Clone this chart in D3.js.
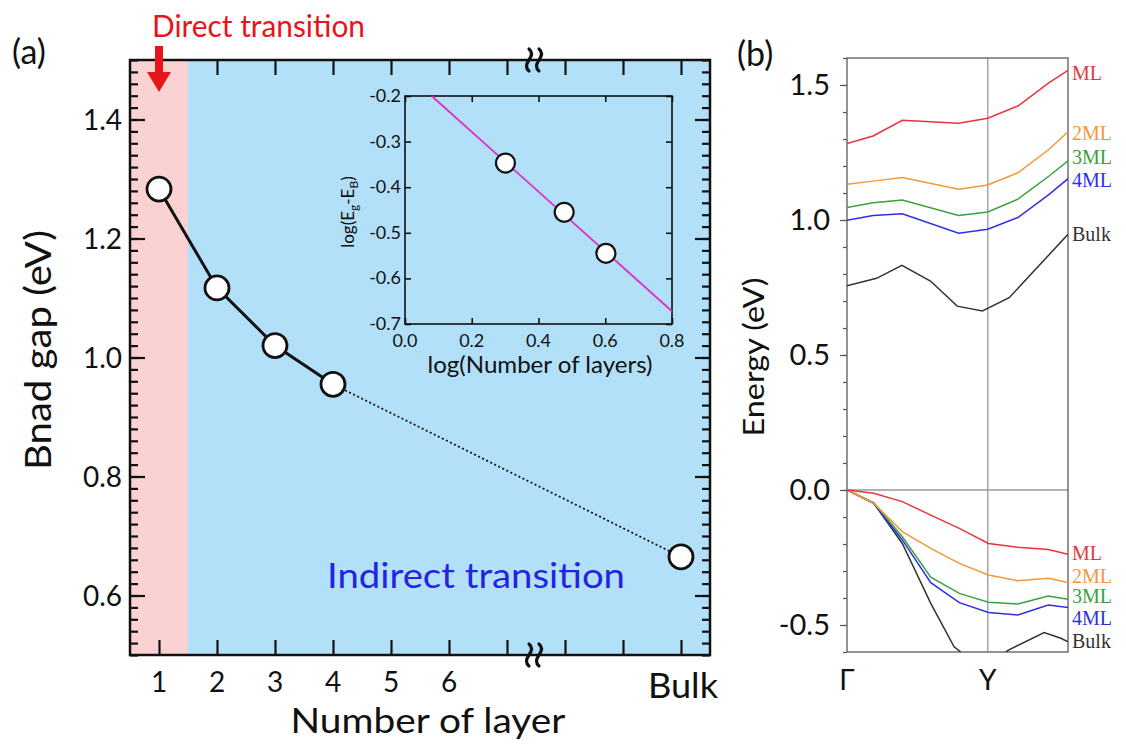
<!DOCTYPE html>
<html>
<head>
<meta charset="utf-8">
<script src="https://cdn.jsdelivr.net/npm/d3@7"></script>
<style>
  body { margin: 0; background: #fff; }
  svg { display: block; font-family: Lato, "Open Sans", sans-serif; }
</style>
</head>
<body>
<div id="chart"></div>
<script>
// ---- data: panel (a) band gap vs layers
const layerNum = [1, 2, 3, 4];
const layerGap = [1.283, 1.117, 1.020, 0.955];
const bulkPos = 10;
const bulkGap = 0.665;
const xTickVals = [1, 2, 3, 4, 5, 6, 7, 8, 9, 10];
const xTickText = ["1", "2", "3", "4", "5", "6", "", "", "", ""];
const yTickVals = [0.6, 0.8, 1.0, 1.2, 1.4];

// inset: log-log fit
const insetLogN = [0.301, 0.477, 0.602];
const insetLogDiff = [-0.347, -0.455, -0.545];
const fitX = [0.08, 0.8];
const fitY = [-0.2, -0.672];

// ---- data: panel (b) band structure
const kCond = [0, 0.186, 0.393, 0.793, 1.0, 1.214, 1.436, 1.57];
const condML  = [1.283, 1.311, 1.369, 1.358, 1.377, 1.422, 1.509, 1.554];
const cond2ML = [1.132, 1.144, 1.157, 1.114, 1.130, 1.175, 1.262, 1.327];
const cond3ML = [1.046, 1.064, 1.074, 1.017, 1.030, 1.077, 1.163, 1.219];
const cond4ML = [0.999, 1.017, 1.023, 0.951, 0.966, 1.009, 1.095, 1.153];
const kCondBulk = [0, 0.21, 0.39, 0.593, 0.783, 0.962, 1.152, 1.57];
const condBulk  = [0.756, 0.784, 0.832, 0.774, 0.681, 0.663, 0.712, 0.947];

const kVal = [0, 0.19, 0.393, 0.595, 0.798, 1.005, 1.214, 1.43, 1.57];
const valML  = [0, -0.012, -0.043, -0.093, -0.142, -0.198, -0.212, -0.220, -0.238];
const val2ML = [0, -0.049, -0.154, -0.216, -0.272, -0.315, -0.336, -0.327, -0.343];
const val3ML = [0, -0.047, -0.173, -0.323, -0.383, -0.416, -0.422, -0.393, -0.405];
const val4ML = [0, -0.049, -0.185, -0.343, -0.417, -0.454, -0.463, -0.426, -0.435];
const kValBulk = [0, 0.19, 0.393, 0.595, 0.76, 0.9, 1.05, 1.14, 1.40, 1.52, 1.57];
const valBulk  = [0, -0.049, -0.198, -0.42, -0.58, -0.64, -0.64, -0.595, -0.528, -0.549, -0.562];

const bandNames = ["ML", "2ML", "3ML", "4ML", "Bulk"];
const bandColors = ["#e8343c", "#f3983a", "#38a23c", "#2f2fe6", "#333333"];
const kLabels = ["Γ", "Y"];
const kLabelPos = [0, 1];

const svg = d3.select("#chart").append("svg")
    .attr("width", 1126)
    .attr("height", 745);

// ================= panel (a) =================
const A = { left: 130, right: 710, top: 60, bottom: 655 };
const xA = d3.scaleLinear().domain([0.5, 10.5]).range([A.left, A.right]);
const yA = d3.scaleLinear().domain([0.5, 1.5]).range([A.bottom, A.top]);

const gA = svg.append("g");

// shaded regions
gA.append("rect")
    .attr("x", xA(0.5)).attr("y", A.top)
    .attr("width", xA(1.5) - xA(0.5)).attr("height", A.bottom - A.top)
    .attr("fill", "#fbd2d2");
gA.append("rect")
    .attr("x", xA(1.5)).attr("y", A.top)
    .attr("width", xA(10.5) - xA(1.5)).attr("height", A.bottom - A.top)
    .attr("fill", "#b3e0f9");

// axes with inward ticks
const yMinor = d3.range(0.5, 1.501, 0.02);
gA.append("g").attr("transform", `translate(${A.left},0)`)
    .call(d3.axisRight(yA).tickValues(yMinor).tickSize(8).tickFormat(""));
gA.append("g").attr("transform", `translate(${A.left},0)`)
    .call(d3.axisRight(yA).tickValues(yTickVals).tickSize(15).tickFormat(""));
gA.append("g").attr("transform", `translate(${A.right},0)`)
    .call(d3.axisLeft(yA).tickValues(yMinor).tickSize(8).tickFormat(""));
gA.append("g").attr("transform", `translate(${A.right},0)`)
    .call(d3.axisLeft(yA).tickValues(yTickVals).tickSize(15).tickFormat(""));
gA.append("g").attr("transform", `translate(0,${A.bottom})`)
    .call(d3.axisTop(xA).tickValues(xTickVals).tickSize(15).tickFormat(""));
gA.append("g").attr("transform", `translate(0,${A.top})`)
    .call(d3.axisBottom(xA).tickValues(xTickVals).tickSize(15).tickFormat(""));
gA.selectAll(".domain").remove();
gA.selectAll(".tick line").attr("stroke", "#111").attr("stroke-width", 2.2);

gA.append("rect")
    .attr("x", A.left).attr("y", A.top)
    .attr("width", A.right - A.left).attr("height", A.bottom - A.top)
    .attr("fill", "none").attr("stroke", "#111").attr("stroke-width", 2.5);

// tick labels
gA.selectAll(".ylab").data(yTickVals).join("text")
    .attr("x", A.left - 8).attr("y", d => yA(d) + 10)
    .attr("text-anchor", "end").attr("font-size", 28).attr("fill", "#111")
    .text(d => d.toFixed(1));
gA.selectAll(".xlab").data(xTickVals).join("text")
    .attr("x", d => xA(d)).attr("y", A.bottom + 37)
    .attr("text-anchor", "middle").attr("font-size", 28).attr("fill", "#111")
    .text((d, i) => xTickText[i]);
gA.append("text")
    .attr("x", xA(bulkPos) + 2).attr("y", A.bottom + 43)
    .attr("text-anchor", "middle").attr("font-size", 34).attr("fill", "#111")
    .attr("textLength", 70).attr("lengthAdjust", "spacingAndGlyphs")
    .text("Bulk");

// axis break marks
const brk = xA(7.5);
[A.top, A.bottom].forEach(yy => {
  [-5, 5].forEach(dx => {
    gA.append("path")
      .attr("d", `M${brk + dx - 2},${yy - 11} q5,4 0,11 q-5,7 0,11`)
      .attr("fill", "none").attr("stroke", "#111").attr("stroke-width", 3.2)
      .attr("stroke-linecap", "round");
  });
});

// data line and points
const lineA = d3.line().x(d => xA(d[0])).y(d => yA(d[1]));
const ptsA = layerNum.map((n, i) => [n, layerGap[i]]);
gA.append("path").datum(ptsA)
    .attr("d", lineA).attr("fill", "none")
    .attr("stroke", "#111").attr("stroke-width", 3);
gA.append("path").datum([ptsA[ptsA.length - 1], [bulkPos, bulkGap]])
    .attr("d", lineA).attr("fill", "none")
    .attr("stroke", "#111").attr("stroke-width", 1.8).attr("stroke-dasharray", "2,2.5");
gA.selectAll(".pt").data(ptsA.concat([[bulkPos, bulkGap]])).join("circle")
    .attr("cx", d => xA(d[0])).attr("cy", d => yA(d[1])).attr("r", 12)
    .attr("fill", "#fff").attr("stroke", "#111").attr("stroke-width", 2.8);

// labels
gA.append("text")
    .attr("transform", `translate(51,350) rotate(-90)`)
    .attr("text-anchor", "middle").attr("font-size", 36).attr("fill", "#111")
    .attr("textLength", 240).attr("lengthAdjust", "spacingAndGlyphs")
    .text("Bnad gap (eV)");
gA.append("text")
    .attr("x", 428).attr("y", 733)
    .attr("text-anchor", "middle").attr("font-size", 35).attr("fill", "#111")
    .attr("textLength", 275).attr("lengthAdjust", "spacingAndGlyphs")
    .text("Number of layer");
gA.append("text")
    .attr("x", 476).attr("y", 588)
    .attr("text-anchor", "middle").attr("font-size", 35).attr("fill", "#2323e0")
    .attr("textLength", 298).attr("lengthAdjust", "spacingAndGlyphs")
    .text("Indirect transition");
gA.append("text")
    .attr("x", 152).attr("y", 37)
    .attr("font-size", 30).attr("fill", "#e8141c")
    .attr("textLength", 213).attr("lengthAdjust", "spacingAndGlyphs")
    .text("Direct transition");
gA.append("text")
    .attr("x", 12).attr("y", 64)
    .attr("font-size", 34).attr("fill", "#111")
    .text("(a)");

// red arrow
gA.append("line")
    .attr("x1", 159).attr("y1", 46).attr("x2", 159).attr("y2", 75)
    .attr("stroke", "#e8141c").attr("stroke-width", 8);
gA.append("path")
    .attr("d", "M147,72 L171,72 L159,92 Z")
    .attr("fill", "#e8141c");

// ================= inset =================
const I = { left: 405, right: 672, top: 96, bottom: 324 };
const xI = d3.scaleLinear().domain([0, 0.8]).range([I.left, I.right]);
const yI = d3.scaleLinear().domain([-0.7, -0.2]).range([I.bottom, I.top]);
const gI = svg.append("g");
const xIT = [0, 0.2, 0.4, 0.6, 0.8];
const yIT = [-0.7, -0.6, -0.5, -0.4, -0.3, -0.2];

gI.append("g").attr("transform", `translate(0,${I.bottom})`)
    .call(d3.axisTop(xI).tickValues(xIT).tickSize(6).tickFormat(""));
gI.append("g").attr("transform", `translate(0,${I.top})`)
    .call(d3.axisBottom(xI).tickValues(xIT).tickSize(6).tickFormat(""));
gI.append("g").attr("transform", `translate(${I.left},0)`)
    .call(d3.axisRight(yI).tickValues(yIT).tickSize(6).tickFormat(""));
gI.append("g").attr("transform", `translate(${I.right},0)`)
    .call(d3.axisLeft(yI).tickValues(yIT).tickSize(6).tickFormat(""));
gI.selectAll(".domain").remove();
gI.selectAll(".tick line").attr("stroke", "#111").attr("stroke-width", 1.6);
gI.append("rect")
    .attr("x", I.left).attr("y", I.top)
    .attr("width", I.right - I.left).attr("height", I.bottom - I.top)
    .attr("fill", "none").attr("stroke", "#111").attr("stroke-width", 1.6);

gI.selectAll(".ixl").data(xIT).join("text")
    .attr("x", d => xI(d)).attr("y", I.bottom + 23)
    .attr("text-anchor", "middle").attr("font-size", 18).attr("fill", "#111")
    .text(d => d.toFixed(1));
gI.selectAll(".iyl").data(yIT).join("text")
    .attr("x", I.left - 4).attr("y", d => yI(d) + 6)
    .attr("text-anchor", "end").attr("font-size", 18).attr("fill", "#111")
    .text(d => d.toFixed(1));

gI.append("path").datum(fitX.map((x, i) => [x, fitY[i]]))
    .attr("d", d3.line().x(d => xI(d[0])).y(d => yI(d[1])))
    .attr("stroke", "#e02ec4").attr("stroke-width", 1.8).attr("fill", "none");
gI.selectAll(".ipt").data(insetLogN.map((x, i) => [x, insetLogDiff[i]])).join("circle")
    .attr("cx", d => xI(d[0])).attr("cy", d => yI(d[1])).attr("r", 9.5)
    .attr("fill", "#fff").attr("stroke", "#111").attr("stroke-width", 2.2);

gI.append("text")
    .attr("x", 540).attr("y", 373)
    .attr("text-anchor", "middle").attr("font-size", 23).attr("fill", "#111")
    .attr("textLength", 225).attr("lengthAdjust", "spacingAndGlyphs")
    .text("log(Number of layers)");
const iyLab = gI.append("text")
    .attr("transform", "translate(354,212) rotate(-90)")
    .attr("text-anchor", "middle").attr("font-size", 17).attr("fill", "#111");
iyLab.append("tspan").text("log(E");
iyLab.append("tspan").attr("font-size", 12).attr("dy", 4).text("g");
iyLab.append("tspan").attr("dy", -4).text("-E");
iyLab.append("tspan").attr("font-size", 12).attr("dy", 4).text("B");
iyLab.append("tspan").attr("dy", -4).text(")");

// ================= panel (b) =================
const B = { left: 847, right: 1068, top: 58, bottom: 652 };
const xB = d3.scaleLinear().domain([0, 1.57]).range([B.left, B.right]);
const yB = d3.scaleLinear().domain([-0.6, 1.6]).range([B.bottom, B.top]);
const gB = svg.append("g");

gB.append("clipPath").attr("id", "clipB").append("rect")
    .attr("x", B.left).attr("y", B.top)
    .attr("width", B.right - B.left).attr("height", B.bottom - B.top);

gB.append("g").attr("transform", `translate(${B.left},0)`)
    .call(d3.axisLeft(yB).tickValues(d3.range(-0.6, 1.601, 0.1)).tickSize(4).tickFormat(""));
gB.append("g").attr("transform", `translate(${B.left},0)`)
    .call(d3.axisLeft(yB).tickValues([-0.5, 0, 0.5, 1.0, 1.5]).tickSize(7).tickFormat(""));
gB.selectAll(".domain").remove();
gB.selectAll(".tick line").attr("stroke", "#555").attr("stroke-width", 1.2);

// guide lines at E=0 and Y point
gB.append("line")
    .attr("x1", B.left).attr("x2", B.right).attr("y1", yB(0)).attr("y2", yB(0))
    .attr("stroke", "#999").attr("stroke-width", 1.3);
gB.append("line")
    .attr("x1", xB(1)).attr("x2", xB(1)).attr("y1", B.top).attr("y2", B.bottom)
    .attr("stroke", "#999").attr("stroke-width", 1.3);

gB.append("rect")
    .attr("x", B.left).attr("y", B.top)
    .attr("width", B.right - B.left).attr("height", B.bottom - B.top)
    .attr("fill", "none").attr("stroke", "#666").attr("stroke-width", 1.4);

const condSets = [
  [kCond, condML], [kCond, cond2ML], [kCond, cond3ML], [kCond, cond4ML], [kCondBulk, condBulk]
];
const valSets = [
  [kVal, valML], [kVal, val2ML], [kVal, val3ML], [kVal, val4ML], [kValBulk, valBulk]
];
const lineB = d3.line().x(d => xB(d[0])).y(d => yB(d[1]));
const gLines = gB.append("g").attr("clip-path", "url(#clipB)");
[valSets, condSets].forEach(sets => {
  sets.slice().reverse().forEach((s, j) => {
    const i = sets.length - 1 - j;
    gLines.append("path")
      .datum(s[0].map((k, n) => [k, s[1][n]]))
      .attr("d", lineB).attr("fill", "none")
      .attr("stroke", bandColors[i]).attr("stroke-width", 1.5);
  });
});

// right-side band labels
const condLabelY = [73, 133, 157, 180, 234];
const valLabelY = [553, 576, 596, 618, 641];
[condLabelY, valLabelY].forEach(ys => {
  gB.selectAll(null).data(bandNames).join("text")
    .attr("x", B.right + 4).attr("y", (d, i) => ys[i] + 7)
    .attr("font-family", "'Liberation Serif', 'DejaVu Serif', serif")
    .attr("font-size", 20).attr("fill", (d, i) => bandColors[i])
    .text(d => d);
});

gB.selectAll(".byl").data([-0.5, 0, 0.5, 1.0, 1.5]).join("text")
    .attr("x", B.left - 17).attr("y", d => yB(d) + 10)
    .attr("text-anchor", "end").attr("font-size", 29).attr("fill", "#111")
    .text(d => d.toFixed(1));
gB.selectAll(".bxl").data(kLabelPos).join("text")
    .attr("x", d => xB(d)).attr("y", 690)
    .attr("text-anchor", "middle").attr("font-size", 28).attr("fill", "#111")
    .text((d, i) => kLabels[i]);

gB.append("text")
    .attr("transform", "translate(764,357) rotate(-90)")
    .attr("text-anchor", "middle").attr("font-size", 29).attr("fill", "#111")
    .attr("textLength", 159).attr("lengthAdjust", "spacingAndGlyphs")
    .text("Energy (eV)");
gB.append("text")
    .attr("x", 737).attr("y", 66)
    .attr("font-size", 34).attr("fill", "#111")
    .text("(b)");
</script>
</body>
</html>
